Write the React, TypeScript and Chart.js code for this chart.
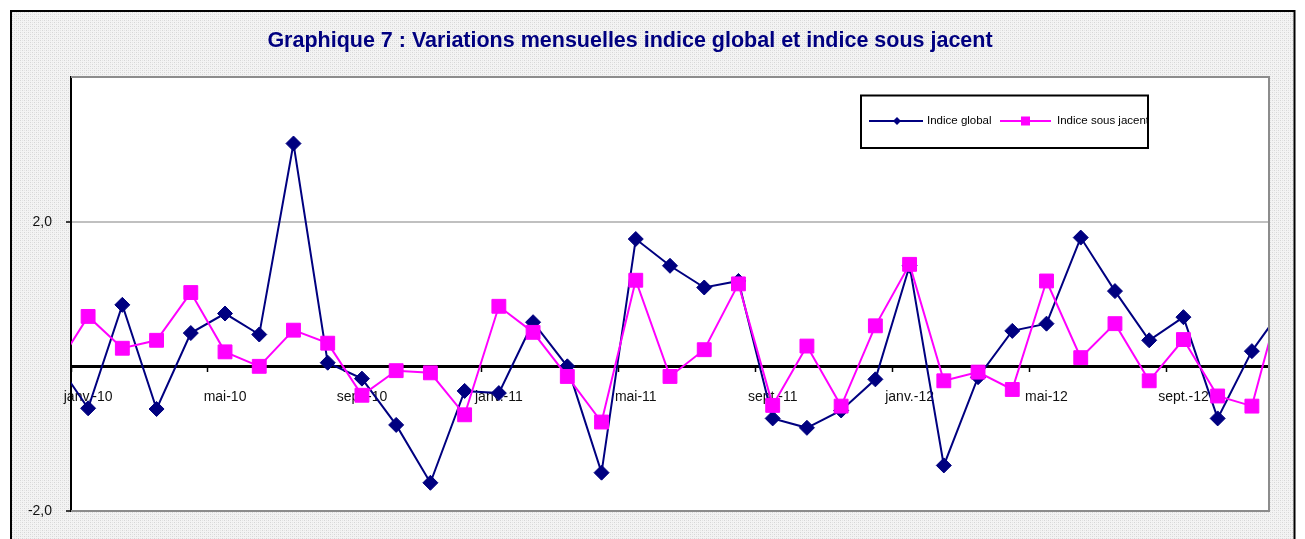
import React, { useEffect, useRef } from 'react';
import { Chart, registerables } from 'chart.js';

Chart.register(...registerables);

const TITLE = 'Graphique 7 : Variations mensuelles indice global et indice sous jacent';

// Months from déc.-09 to déc.-12 (the first and last are only partly visible)
const months: string[] = [
  'déc.-09',
  'janv.-10', 'févr.-10', 'mars-10', 'avr.-10', 'mai-10', 'juin-10', 'juil.-10', 'août-10', 'sept.-10', 'oct.-10', 'nov.-10', 'déc.-10',
  'janv.-11', 'févr.-11', 'mars-11', 'avr.-11', 'mai-11', 'juin-11', 'juil.-11', 'août-11', 'sept.-11', 'oct.-11', 'nov.-11', 'déc.-11',
  'janv.-12', 'févr.-12', 'mars-12', 'avr.-12', 'mai-12', 'juin-12', 'juil.-12', 'août-12', 'sept.-12', 'oct.-12', 'nov.-12', 'déc.-12',
];

const indiceGlobal: number[] = [
  0.11,
  -0.58, 0.85, -0.59, 0.46, 0.73, 0.44, 3.08, 0.05, -0.17, -0.81, -1.61, -0.34,
  -0.37, 0.61, 0.0, -1.47, 1.76, 1.39, 1.09, 1.18, -0.72, -0.85, -0.61, -0.18,
  1.39, -1.37, -0.15, 0.49, 0.59, 1.78, 1.04, 0.36, 0.68, -0.72, 0.21, 0.87,
];

const indiceSousJacent: number[] = [
  -0.06,
  0.69, 0.25, 0.36, 1.02, 0.2, 0.0, 0.5, 0.32, -0.4, -0.06, -0.09, -0.67,
  0.83, 0.47, -0.14, -0.77, 1.19, -0.14, 0.23, 1.14, -0.54, 0.28, -0.55, 0.56,
  1.41, -0.2, -0.08, -0.32, 1.18, 0.12, 0.59, -0.2, 0.37, -0.41, -0.55, 1.21,
];

const xTickLabels: string[] = ['janv.-10', 'mai-10', 'sept.-10', 'janv.-11', 'mai-11', 'sept.-11', 'janv.-12', 'mai-12', 'sept.-12'];
const yTickValues: number[] = [-2, 2];

const FONT = '"Liberation Sans", Arial, sans-serif';

export default function App() {
  const ref = useRef<HTMLCanvasElement>(null);

  useEffect(() => {
    const canvas = ref.current!;
    // dotted background pattern (Excel-like)
    const off = document.createElement('canvas');
    off.width = 4;
    off.height = 4;
    const octx = off.getContext('2d')!;
    octx.fillStyle = '#f3f3f3';
    octx.fillRect(0, 0, 4, 4);
    octx.fillStyle = '#d6d6d6';
    octx.fillRect(0, 0, 1, 1);
    octx.fillRect(2, 2, 1, 1);
    octx.fillStyle = '#e4e4e4';
    octx.fillRect(2, 0, 1, 1);
    octx.fillRect(0, 2, 1, 1);
    const pattern = canvas.getContext('2d')!.createPattern(off, 'repeat');

    // index 0 = déc.-09 -> x = -1 ; janv.-10 -> x = 0
    const toPoints = (vals: number[]) => vals.map((v, k) => ({ x: k - 1, y: v }));

    const framePlugin = {
      id: 'framePlugin',
      beforeDraw(chart: any) {
        const ctx = chart.ctx;
        const { left, top, right, bottom } = chart.chartArea;
        ctx.save();
        ctx.fillStyle = '#ffffff';
        ctx.fillRect(0, 0, chart.width, chart.height);
        ctx.fillStyle = pattern || '#eeeeee';
        ctx.fillRect(11, 11, 1283.5, 600);
        ctx.strokeStyle = '#000000';
        ctx.lineWidth = 2;
        ctx.strokeRect(11, 11, 1283.5, 600);
        ctx.fillStyle = '#ffffff';
        ctx.fillRect(left, top, right - left, bottom - top);
        ctx.fillStyle = '#000080';
        ctx.font = 'bold 21.5px ' + FONT;
        ctx.textAlign = 'center';
        ctx.textBaseline = 'alphabetic';
        ctx.fillText(TITLE, 630, 47);
        ctx.restore();
      },
      afterDatasetsDraw(chart: any) {
        const ctx = chart.ctx;
        const { left, top, right, bottom } = chart.chartArea;
        ctx.save();
        // plot area border (grey)
        ctx.strokeStyle = '#8c8c8c';
        ctx.lineWidth = 2;
        ctx.beginPath();
        ctx.moveTo(left, top);
        ctx.lineTo(right, top);
        ctx.lineTo(right, bottom);
        ctx.lineTo(left, bottom);
        ctx.stroke();

        // legend
        const lx = 861, ly = 95.5, lw = 287, lh = 52.5;
        ctx.fillStyle = '#ffffff';
        ctx.fillRect(lx, ly, lw, lh);
        ctx.strokeStyle = '#000000';
        ctx.lineWidth = 2;
        ctx.strokeRect(lx, ly, lw, lh);
        ctx.beginPath();
        ctx.rect(lx + 1, ly + 1, lw - 2, lh - 2);
        ctx.clip();
        const cy = 121;
        const ds = chart.data.datasets;
        // global
        ctx.strokeStyle = '#000080';
        ctx.lineWidth = 2;
        ctx.beginPath();
        ctx.moveTo(869, cy);
        ctx.lineTo(923, cy);
        ctx.stroke();
        ctx.fillStyle = '#000080';
        ctx.beginPath();
        ctx.moveTo(897, cy - 4);
        ctx.lineTo(901, cy);
        ctx.lineTo(897, cy + 4);
        ctx.lineTo(893, cy);
        ctx.closePath();
        ctx.fill();
        // sous jacent
        ctx.strokeStyle = '#ff00ff';
        ctx.beginPath();
        ctx.moveTo(1000, cy);
        ctx.lineTo(1051, cy);
        ctx.stroke();
        ctx.fillStyle = '#ff00ff';
        ctx.fillRect(1021, cy - 4.5, 9, 9);
        ctx.fillStyle = '#000000';
        ctx.font = '11.5px ' + FONT;
        ctx.textAlign = 'left';
        ctx.textBaseline = 'middle';
        ctx.fillText(ds[0].label, 927, cy);
        ctx.fillText(ds[1].label, 1057, cy);
        ctx.restore();
      },
    };

    const chart = new Chart(canvas, {
      type: 'line',
      data: {
        datasets: [
          {
            label: 'Indice global',
            data: toPoints(indiceGlobal),
            borderColor: '#000080',
            backgroundColor: '#000080',
            borderWidth: 2,
            pointStyle: 'rectRot',
            pointRadius: 7.5,
            pointBorderWidth: 1,
            pointBackgroundColor: '#000080',
            pointBorderColor: '#000080',
            tension: 0,
            order: 1,
          },
          {
            label: 'Indice sous jacent',
            data: toPoints(indiceSousJacent),
            borderColor: '#ff00ff',
            backgroundColor: '#ff00ff',
            borderWidth: 2,
            pointStyle: 'rect',
            pointRadius: 9.8,
            pointBorderWidth: 1,
            pointBackgroundColor: '#ff00ff',
            pointBorderColor: '#ff00ff',
            tension: 0,
            order: 0,
          },
        ],
      },
      options: {
        animation: false,
        responsive: false,
        events: [],
        layout: { padding: { left: 0, top: 77, right: 36, bottom: 28 } },
        plugins: {
          legend: { display: false },
          title: { display: false },
          tooltip: { enabled: false },
        },
        scales: {
          x: {
            type: 'linear',
            min: -0.5,
            max: 34.5,
            position: { y: 0 } as any,
            afterBuildTicks: (scale: any) => {
              scale.ticks = months.slice(1, 36).map((_, i) => ({ value: i }));
            },
            afterFit: (scale: any) => {
              scale.paddingLeft = 0;
              scale.paddingRight = 0;
            },
            grid: {
              offset: true,
              drawOnChartArea: false,
              drawTicks: true,
              tickLength: 4,
              tickWidth: 1.5,
              tickColor: (c: any) => (c.index % 4 === 0 ? '#000000' : 'rgba(0,0,0,0)'),
            },
            border: { display: true, color: '#000000', width: 3 },
            ticks: {
              autoSkip: false,
              maxRotation: 0,
              minRotation: 0,
              padding: 18,
              color: '#111111',
              font: { family: FONT, size: 14 },
              callback: (value: any) => {
                const v = Number(value);
                return v % 4 === 0 ? xTickLabels[v / 4] ?? '' : '';
              },
            },
          },
          y: {
            type: 'linear',
            position: 'left',
            min: -2,
            max: 4,
            afterBuildTicks: (scale: any) => {
              scale.ticks = yTickValues.map((v) => ({ value: v }));
            },
            afterFit: (scale: any) => {
              scale.width = 71;
              scale.paddingTop = 0;
              scale.paddingBottom = 0;
            },
            grid: {
              drawOnChartArea: true,
              drawTicks: true,
              tickLength: 5,
              tickWidth: 1.5,
              tickColor: '#000000',
              lineWidth: 2,
              color: (c: any) => (c.tick && c.tick.value === 2 ? '#c0c0c0' : 'rgba(0,0,0,0)'),
            },
            border: { display: true, color: '#000000', width: 2 },
            ticks: {
              padding: 14,
              color: '#111111',
              font: { family: FONT, size: 14 },
              callback: (value: any) => Number(value).toFixed(1).replace('.', ','),
            },
          },
        },
      },
      plugins: [framePlugin],
    });

    return () => chart.destroy();
  }, []);

  return (
    <div style={{ position: 'fixed', left: 0, top: 0, width: 1305, height: 539, background: '#ffffff' }}>
      <canvas ref={ref} width={1305} height={539} style={{ display: 'block', width: 1305, height: 539 }} />
    </div>
  );
}
